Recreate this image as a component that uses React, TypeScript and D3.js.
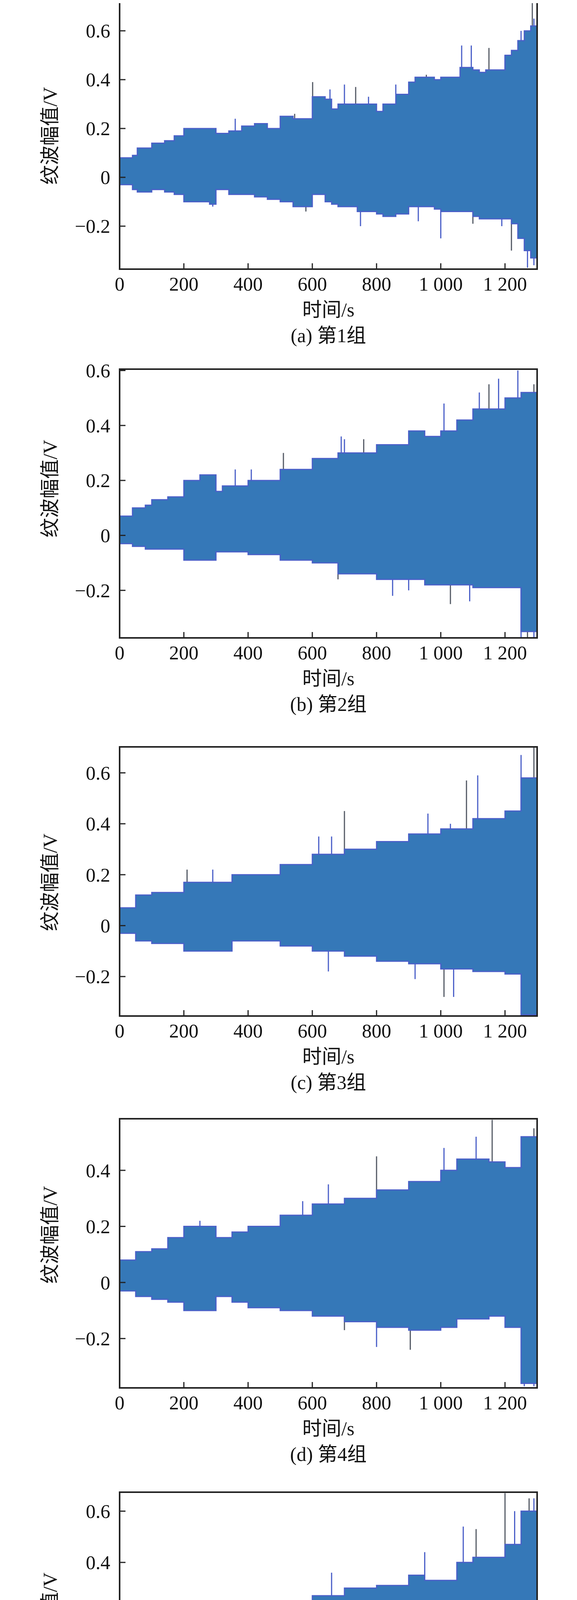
import React from 'react';
import * as d3 from 'd3';

// envelope segments: [start time (s), upper (V), lower (V)]
const stepsA: number[][] = [
  [0, 0.08, -0.03], [40, 0.09, -0.05], [55, 0.12, -0.06], [100, 0.14, -0.05], [140, 0.15, -0.06],
  [170, 0.17, -0.07], [200, 0.2, -0.1], [280, 0.2, -0.11], [300, 0.18, -0.05], [340, 0.19, -0.07],
  [380, 0.21, -0.07], [420, 0.22, -0.08], [460, 0.2, -0.09], [500, 0.25, -0.1], [540, 0.24, -0.12],
  [600, 0.33, -0.07], [640, 0.32, -0.1], [660, 0.28, -0.11], [680, 0.3, -0.12], [740, 0.3, -0.14],
  [800, 0.27, -0.15], [820, 0.3, -0.16], [860, 0.34, -0.15], [900, 0.39, -0.12], [920, 0.41, -0.12],
  [980, 0.4, -0.13], [1000, 0.41, -0.14], [1060, 0.45, -0.14], [1100, 0.44, -0.16], [1120, 0.43, -0.17],
  [1140, 0.44, -0.17], [1200, 0.5, -0.17], [1220, 0.52, -0.19], [1240, 0.56, -0.25], [1260, 0.6, -0.3], [1280, 0.62, -0.33],
];
const spikesA: number[][] = [
  [601, 0.39], [655, 0.36], [700, 0.38], [735, 0.37], [775, 0.33], [860, 0.38], [955, 0.42], [1065, 0.54],
  [1095, 0.54], [1150, 0.53], [1200, 0.5], [1250, 0.6], [1285, 0.72], [1290, 0.65], [360, 0.24], [545, 0.26],
  [750, -0.2], [1000, -0.25], [1220, -0.3], [1270, -0.37], [1290, -0.36], [580, -0.14], [290, -0.12],
  [930, -0.18], [1100, -0.19], [1190, -0.2],
];

const stepsB: number[][] = [
  [0, 0.07, -0.03], [40, 0.1, -0.04], [80, 0.11, -0.05], [100, 0.13, -0.05], [150, 0.14, -0.05],
  [200, 0.2, -0.09], [250, 0.22, -0.09], [300, 0.16, -0.06], [320, 0.18, -0.06], [400, 0.2, -0.07],
  [500, 0.24, -0.09], [600, 0.28, -0.1], [680, 0.3, -0.14], [800, 0.33, -0.16], [900, 0.38, -0.16],
  [950, 0.36, -0.18], [1000, 0.38, -0.18], [1050, 0.42, -0.18], [1100, 0.46, -0.19], [1200, 0.5, -0.19],
  [1250, 0.52, -0.35],
];
const spikesB: number[][] = [
  [510, 0.3], [690, 0.36], [700, 0.35], [760, 0.35], [1010, 0.48], [1120, 0.52], [1150, 0.55],
  [1180, 0.57], [1240, 0.6], [1290, 0.55], [360, 0.24], [410, 0.24],
  [680, -0.16], [850, -0.22], [900, -0.2], [1030, -0.25], [1090, -0.24], [1250, -0.37], [1270, -0.37], [1290, -0.37],
];

const stepsC: number[][] = [
  [0, 0.07, -0.03], [50, 0.12, -0.06], [100, 0.13, -0.07], [200, 0.17, -0.1], [350, 0.2, -0.06],
  [500, 0.24, -0.08], [600, 0.28, -0.1], [700, 0.3, -0.12], [800, 0.33, -0.14], [900, 0.36, -0.15],
  [1000, 0.38, -0.17], [1100, 0.42, -0.18], [1200, 0.45, -0.19], [1250, 0.58, -0.35],
];
const spikesC: number[][] = [
  [700, 0.45], [620, 0.35], [660, 0.35], [1080, 0.57], [1115, 0.59], [1250, 0.67], [1290, 0.7],
  [960, 0.44], [1030, 0.4], [210, 0.22], [290, 0.22],
  [650, -0.18], [1010, -0.28], [1040, -0.28], [920, -0.21], [1260, -0.36], [1290, -0.35],
];

const stepsD: number[][] = [
  [0, 0.08, -0.03], [50, 0.11, -0.05], [100, 0.12, -0.06], [150, 0.16, -0.07], [200, 0.2, -0.1],
  [300, 0.16, -0.05], [350, 0.18, -0.07], [400, 0.2, -0.09], [500, 0.24, -0.1], [600, 0.28, -0.12],
  [700, 0.3, -0.14], [800, 0.33, -0.16], [900, 0.36, -0.17], [1000, 0.4, -0.16], [1050, 0.44, -0.13],
  [1150, 0.43, -0.12], [1200, 0.41, -0.16], [1250, 0.52, -0.36],
];
const spikesD: number[][] = [
  [1160, 0.58], [1010, 0.48], [1110, 0.52], [800, 0.45], [570, 0.29], [650, 0.35], [1290, 0.55], [250, 0.22],
  [800, -0.23], [905, -0.24], [1260, -0.37], [1290, -0.37], [700, -0.17],
];

const stepsE: number[][] = [
  [0, 0.08, -0.03], [50, 0.11, -0.05], [100, 0.13, -0.07], [200, 0.18, -0.09], [300, 0.19, -0.1],
  [400, 0.2, -0.09], [500, 0.22, -0.11], [600, 0.27, -0.12], [700, 0.3, -0.12], [800, 0.31, -0.15],
  [900, 0.35, -0.16], [950, 0.33, -0.17], [1050, 0.4, -0.18], [1100, 0.42, -0.19], [1200, 0.47, -0.2],
  [1250, 0.6, -0.33],
];
const spikesE: number[][] = [
  [1200, 0.67], [1230, 0.6], [1070, 0.54], [1110, 0.53], [950, 0.44], [660, 0.36], [1275, 0.65], [1290, 0.65],
  [1190, -0.3], [1250, -0.36], [1280, -0.37], [1170, -0.28], [1000, -0.21], [800, -0.2],
];

const xTicks = [0, 200, 400, 600, 800, 1000, 1200];
const captions = ['(a) 第1组', '(b) 第2组', '(c) 第3组', '(d) 第4组', '(e) 第5组'];

const panels = [
  { steps: stepsA, spikes: spikesA, top: 2, bottom: 689, yMin: -0.376, yMax: 0.723, ticks: [-0.2, 0, 0.2, 0.4, 0.6] },
  { steps: stepsB, spikes: spikesB, top: 945, bottom: 1633, yMin: -0.373, yMax: 0.605, ticks: [-0.2, 0, 0.2, 0.4, 0.6] },
  { steps: stepsC, spikes: spikesC, top: 1912, bottom: 2601, yMin: -0.355, yMax: 0.702, ticks: [-0.2, 0, 0.2, 0.4, 0.6] },
  { steps: stepsD, spikes: spikesD, top: 2864, bottom: 3553, yMin: -0.376, yMax: 0.584, ticks: [-0.2, 0, 0.2, 0.4] },
  { steps: stepsE, spikes: spikesE, top: 3820, bottom: 4509, yMin: -0.376, yMax: 0.674, ticks: [-0.2, 0, 0.2, 0.4, 0.6] },
];

const LEFT = 306;
const RIGHT = 1374;
const font = '"Liberation Serif", "Noto Sans CJK SC", serif';
const fmtX = (v: number) => (v >= 1000 ? `${Math.floor(v / 1000)} ${d3.format('03d')(v % 1000)}` : `${v}`);
const fmtY = (v: number) => (v === 0 ? '0' : `${v < 0 ? '\u22120' : '0'}.${Math.round(Math.abs(v) * 10)}`);

const Panel = ({ p, caption, id }: { p: typeof panels[0]; caption: string; id: number }) => {
  const x = d3.scaleLinear().domain([0, 1300]).range([LEFT, RIGHT]);
  const y = d3.scaleLinear().domain([p.yMin, p.yMax]).range([p.bottom, p.top]);
  const pts: [number, number, number][] = [];
  p.steps.forEach((s, i) => {
    const end = i < p.steps.length - 1 ? p.steps[i + 1][0] : 1300;
    pts.push([s[0], s[1], s[2]], [end, s[1], s[2]]);
  });
  const area = d3.area<[number, number, number]>().x((d) => x(d[0])).y0((d) => y(d[2])).y1((d) => y(d[1]));
  const upper = d3.line<[number, number, number]>().x((d) => x(d[0])).y((d) => y(d[1]));
  const lower = d3.line<[number, number, number]>().x((d) => x(d[0])).y((d) => y(d[2]));
  const clip = `clip-${id}`;
  return (
    <g>
      <defs>
        <clipPath id={clip}>
          <rect x={LEFT} y={p.top} width={RIGHT - LEFT} height={p.bottom - p.top} />
        </clipPath>
      </defs>
      <g clipPath={`url(#${clip})`}>
        {p.spikes.map((s, i) => (
          <line key={i} x1={x(s[0])} x2={x(s[0])} y1={y(0.05)} y2={y(s[1])}
            stroke={i % 3 === 0 ? '#555b66' : '#4a5fc8'} strokeWidth={3} />
        ))}
        <path d={area(pts) || ''} fill="#3578b8" />
        <path d={upper(pts) || ''} fill="none" stroke="#4a5fc8" strokeWidth={3} />
        <path d={lower(pts) || ''} fill="none" stroke="#4a5fc8" strokeWidth={3} />
      </g>
      <rect x={LEFT} y={p.top} width={RIGHT - LEFT} height={p.bottom - p.top} fill="none" stroke="#222" strokeWidth={4} />
      {p.ticks.map((t) => (
        <g key={t}>
          <line x1={LEFT} x2={LEFT + 15} y1={y(t)} y2={y(t)} stroke="#222" strokeWidth={3} />
          <text x={282} y={y(t)} dy="0.35em" textAnchor="end" fontSize={50} fontFamily={font} fill="#111">{fmtY(t)}</text>
        </g>
      ))}
      {xTicks.map((t) => (
        <g key={t}>
          <line x1={x(t)} x2={x(t)} y1={p.bottom} y2={p.bottom - 15} stroke="#222" strokeWidth={3} />
          <text x={x(t)} y={p.bottom + 37} dy="0.35em" textAnchor="middle" fontSize={50} fontFamily={font} fill="#111">{fmtX(t)}</text>
        </g>
      ))}
      <text x={(LEFT + RIGHT) / 2} y={p.bottom + 103} dy="0.35em" textAnchor="middle" fontSize={50} fontFamily={font} fill="#111">时间/s</text>
      <text x={(LEFT + RIGHT) / 2} y={p.bottom + 169} dy="0.35em" textAnchor="middle" fontSize={50} fontFamily={font} fill="#111">{caption}</text>
      <text transform={`translate(127,${y(0.17)}) rotate(-90)`} dy="0.35em" textAnchor="middle" fontSize={50} fontFamily={font} fill="#111">纹波幅值/V</text>
    </g>
  );
};

export default function App() {
  return (
    <svg width={1476} height={4721} style={{ display: 'block', margin: '-8px', background: '#fff' }}>
      {panels.map((p, i) => (
        <Panel key={i} p={p} caption={captions[i]} id={i} />
      ))}
    </svg>
  );
}
